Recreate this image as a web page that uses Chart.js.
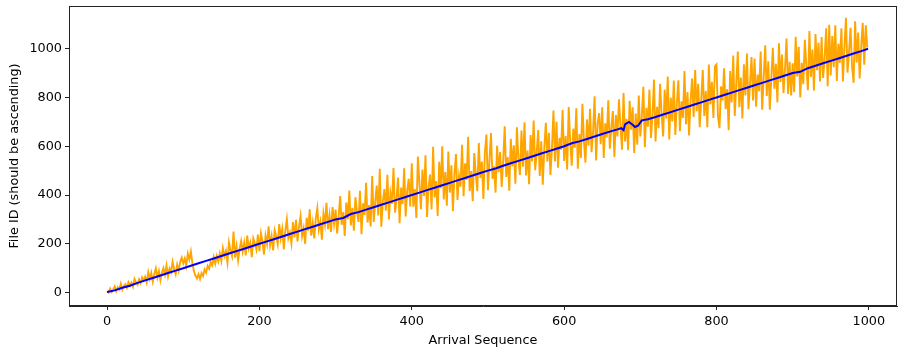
<!DOCTYPE html>
<html>
<head>
<meta charset="utf-8">
<script src="https://cdn.jsdelivr.net/npm/chart.js@4"></script>
<style>
  html, body { margin: 0; padding: 0; background: #ffffff; }
  #wrap { width: 899px; height: 351px; }
</style>
</head>
<body>
<div id="wrap"><canvas id="c" width="899" height="351"></canvas></div>
<script>
// ---- data ----
const xTickValues = [0, 200, 400, 600, 800, 1000];
const yTickValues = [0, 200, 400, 600, 800, 1000];

// arrival positions (every 2nd) for the received file id series (orange)
const arrivalIdx = [
  0,2,4,6,8,10,12,14,16,18,20,22,24,26,28,30,32,34,36,38,40,42,44,46,48,
  50,52,54,56,58,60,62,64,66,68,70,72,74,76,78,80,82,84,86,88,90,92,94,96,98,
  100,102,104,106,108,110,112,114,116,118,120,122,124,126,128,130,132,134,136,138,140,142,144,146,148,
  150,152,154,156,158,160,162,164,166,168,170,172,174,176,178,180,182,184,186,188,190,192,194,196,198,
  200,202,204,206,208,210,212,214,216,218,220,222,224,226,228,230,232,234,236,238,240,242,244,246,248,
  250,252,254,256,258,260,262,264,266,268,270,272,274,276,278,280,282,284,286,288,290,292,294,296,298,
  300,302,304,306,308,310,312,314,316,318,320,322,324,326,328,330,332,334,336,338,340,342,344,346,348,
  350,352,354,356,358,360,362,364,366,368,370,372,374,376,378,380,382,384,386,388,390,392,394,396,398,
  400,402,404,406,408,410,412,414,416,418,420,422,424,426,428,430,432,434,436,438,440,442,444,446,448,
  450,452,454,456,458,460,462,464,466,468,470,472,474,476,478,480,482,484,486,488,490,492,494,496,498,
  500,502,504,506,508,510,512,514,516,518,520,522,524,526,528,530,532,534,536,538,540,542,544,546,548,
  550,552,554,556,558,560,562,564,566,568,570,572,574,576,578,580,582,584,586,588,590,592,594,596,598,
  600,602,604,606,608,610,612,614,616,618,620,622,624,626,628,630,632,634,636,638,640,642,644,646,648,
  650,652,654,656,658,660,662,664,666,668,670,672,674,676,678,680,682,684,686,688,690,692,694,696,698,
  700,702,704,706,708,710,712,714,716,718,720,722,724,726,728,730,732,734,736,738,740,742,744,746,748,
  750,752,754,756,758,760,762,764,766,768,770,772,774,776,778,780,782,784,786,788,790,792,794,796,798,
  800,802,804,806,808,810,812,814,816,818,820,822,824,826,828,830,832,834,836,838,840,842,844,846,848,
  850,852,854,856,858,860,862,864,866,868,870,872,874,876,878,880,882,884,886,888,890,892,894,896,898,
  900,902,904,906,908,910,912,914,916,918,920,922,924,926,928,930,932,934,936,938,940,942,944,946,948,
  950,952,954,956,958,960,962,964,966,968,970,972,974,976,978,980,982,984,986,988,990,992,994,996,998
];
const receivedIds = [
  6,0,16,2,11,25,6,22,13,36,12,27,34,20,42,28,41,24,56,42,32,54,39,62,50,
  65,42,84,56,81,45,75,99,61,88,50,82,101,73,111,67,99,84,126,95,75,115,89,126,143,
  120,140,110,160,135,168,120,88,70,58,75,55,80,68,95,82,110,98,125,112,145,118,150,128,160,
  130,182,149,171,123,205,172,149,250,143,190,132,179,211,168,205,152,234,181,203,145,222,202,176,238,
  170,242,209,156,233,200,272,194,231,173,255,232,199,281,223,260,177,254,301,223,245,202,289,226,298,
  210,272,314,231,263,200,307,254,341,233,285,222,304,346,258,290,217,324,281,368,260,317,249,351,283,
  340,242,314,396,278,330,232,369,301,418,275,347,254,391,333,290,417,239,366,318,450,287,359,271,478,
  290,372,439,316,508,270,372,424,336,483,300,407,364,511,328,385,472,284,431,363,510,312,419,466,353,
  530,352,424,306,558,450,342,504,396,563,310,432,484,341,598,390,457,314,536,428,600,382,494,356,578,
  410,522,334,486,568,380,477,434,606,395,530,462,639,416,498,375,572,489,416,613,470,537,384,576,648,
  420,542,654,466,518,410,602,494,576,433,540,682,474,556,418,630,517,604,446,678,545,482,664,516,698,
  480,582,444,646,538,705,502,574,666,478,620,442,594,696,538,655,482,589,746,538,700,512,634,586,748,
  540,642,504,761,618,520,672,594,756,508,650,552,774,621,533,710,602,754,576,658,805,542,694,736,608,
  760,552,694,636,788,590,677,744,556,728,640,792,679,586,818,620,712,584,786,668,760,572,734,606,808,
  640,722,844,596,758,680,832,634,726,873,620,762,674,856,728,640,832,714,886,628,800,702,869,646,778,
  870,662,784,716,908,690,822,644,786,878,720,912,744,856,678,790,912,724,826,678,935,772,864,716,928,
  935,722,674,846,788,920,752,834,666,908,780,972,724,856,988,760,882,714,936,808,980,752,854,966,788,
  960,762,894,826,988,750,882,1014,806,948,750,882,1004,836,938,780,1022,864,976,818,920,1042,814,946,808,
  940,822,1049,886,1008,800,942,854,1036,928,830,1072,884,996,828,1060,912,1024,866,1048,880,962,1084,846,1098,
  890,1052,924,1096,868,1020,942,1084,866,1008,1127,902,984,1086,928,860,1112,944,1066,878,1010,1106,934,1096,1005
];

// arrival positions and values for the processed (ascending) series (blue)
const processedIdx = [
  0,10,20,30,40,50,60,70,80,90,
  100,110,120,130,140,150,160,170,180,190,
  200,210,220,230,240,250,260,270,280,290,
  300,310,320,330,340,350,360,370,380,390,
  400,410,420,430,440,450,460,470,480,490,
  500,510,520,530,540,550,560,570,580,590,
  600,610,620,630,640,650,660,670,675,678,
  680,685,690,693,697,702,710,720,730,740,
  750,760,770,780,790,800,810,820,830,840,
  850,860,870,880,890,900,910,920,930,940,
  950,960,970,980,990,999
];
const processedIds = [
  2,9,20,28,40,50,60,70,80,90,
  100,110,120,130,140,150,160,170,180,190,
  200,210,220,230,240,250,260,270,280,290,
  300,306,322,330,340,350,360,370,380,390,
  400,410,420,430,440,450,460,470,480,490,
  500,509,520,530,540,550,560,570,580,590,
  600,612,620,630,640,650,660,669,674,666,
  690,700,688,679,684,706,711,720,730,740,
  750,760,770,780,790,800,810,820,830,840,
  850,860,870,880,890,900,905,920,930,940,
  950,960,970,980,990,1000
];

const toPoints = (xs, ys) => xs.map((x, i) => ({ x: x, y: ys[i] }));

const FONT = "'DejaVu Sans', 'Liberation Sans', sans-serif";
const FSIZE = 12.8;

const framePlugin = {
  id: 'frame',
  afterDatasetsDraw(chart) {
    const a = chart.chartArea;
    const ctx = chart.ctx;
    ctx.save();
    ctx.strokeStyle = '#222222';
    ctx.lineWidth = 1;
    ctx.strokeRect(Math.round(a.left) + 0.5, Math.round(a.top) + 0.5,
                   Math.round(a.right - a.left) - 1, Math.round(a.bottom - a.top) - 1);
    ctx.restore();
  }
};

new Chart(document.getElementById('c'), {
  type: 'line',
  data: {
    datasets: [
      {
        label: 'Received',
        data: toPoints(arrivalIdx, receivedIds),
        borderColor: '#FFA500',
        backgroundColor: '#FFA500',
        borderWidth: 1.9,
        pointRadius: 0,
        tension: 0,
        order: 1
      },
      {
        label: 'Processed',
        data: toPoints(processedIdx, processedIds),
        borderColor: '#0000FF',
        backgroundColor: '#0000FF',
        borderWidth: 2,
        pointRadius: 0,
        tension: 0,
        order: 0
      }
    ]
  },
  options: {
    responsive: false,
    animation: false,
    events: [],
    layout: { padding: { top: 6, right: 2, left: 0, bottom: 0 } },
    plugins: {
      legend: { display: false },
      tooltip: { enabled: false }
    },
    scales: {
      x: {
        type: 'linear',
        min: -50,
        max: 1037,
        afterBuildTicks: (s) => { s.ticks = xTickValues.map(v => ({ value: v })); },
        afterFit: (s) => { s.height = 45; s.paddingLeft = 0; s.paddingRight = 0; },
        grid: { drawOnChartArea: false, tickLength: 4, tickColor: '#222', tickWidth: 1 },
        border: { display: true, color: '#222', width: 1 },
        ticks: { color: '#000', font: { family: FONT, size: FSIZE }, padding: 4, maxRotation: 0,
                 callback: (v) => String(v) },
        title: { display: true, text: 'Arrival Sequence', color: '#000', font: { family: FONT, size: FSIZE }, padding: { top: 2, bottom: 3 } }
      },
      y: {
        type: 'linear',
        min: -55,
        max: 1175,
        afterBuildTicks: (s) => { s.ticks = yTickValues.map(v => ({ value: v })); },
        afterFit: (s) => { s.width = 69; s.paddingTop = 0; s.paddingBottom = 0; },
        grid: { drawOnChartArea: false, tickLength: 4, tickColor: '#222', tickWidth: 1 },
        border: { display: true, color: '#222', width: 1 },
        ticks: { color: '#000', font: { family: FONT, size: FSIZE }, padding: 3,
                 callback: (v) => String(v) },
        title: { display: true, text: 'File ID (should be ascending)', color: '#000', font: { family: FONT, size: FSIZE }, padding: { top: 7, bottom: 0 } }
      }
    }
  },
  plugins: [framePlugin]
});
</script>
</body>
</html>
